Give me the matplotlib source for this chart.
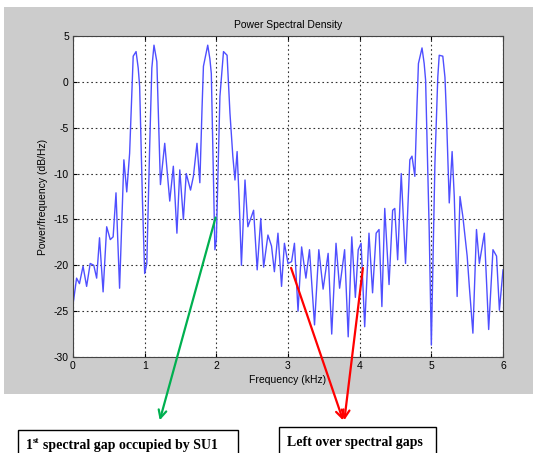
import numpy as np
import matplotlib.pyplot as plt
from matplotlib.patches import Rectangle

# PSD curve (kHz, dB/Hz)
freq = [0.00, 0.05, 0.09, 0.14, 0.19, 0.24, 0.29, 0.33, 0.37, 0.42, 0.47, 0.52,
        0.56, 0.60, 0.65, 0.71, 0.75, 0.79, 0.82, 0.84, 0.88, 0.91, 0.93, 0.97, 1.00, 1.03,
        1.07, 1.10, 1.13, 1.17, 1.22, 1.28, 1.35, 1.40, 1.45, 1.49, 1.54, 1.58, 1.64,
        1.68, 1.73, 1.77, 1.80, 1.82, 1.88, 1.91, 1.93, 1.98, 2.00, 2.05, 2.10, 2.15, 2.19,
        2.23, 2.26, 2.29, 2.32, 2.35, 2.40, 2.44, 2.52, 2.57, 2.62, 2.66, 2.72,
        2.77, 2.81, 2.86, 2.91, 2.95, 3.00, 3.05, 3.09, 3.14, 3.19, 3.25, 3.30,
        3.37, 3.43, 3.49, 3.56, 3.61, 3.67, 3.72, 3.79, 3.84, 3.89, 3.94, 3.98,
        4.02, 4.07, 4.13, 4.18, 4.23, 4.27, 4.31, 4.35, 4.41, 4.46, 4.49, 4.53,
        4.58, 4.64, 4.70, 4.73, 4.77, 4.80, 4.82, 4.87, 4.90, 4.92, 4.97, 5.00, 5.05, 5.09, 5.11,
        5.16, 5.19, 5.21, 5.25, 5.29, 5.32, 5.36, 5.40, 5.44, 5.50, 5.53, 5.58, 5.63,
        5.67, 5.74, 5.80, 5.86, 5.91, 5.95, 6.00]
psd = [-24.3, -21.4, -22.0, -20.1, -22.3, -19.8, -20.0, -21.4, -17.0, -22.9, -15.8, -17.2,
       -16.9, -12.1, -22.5, -8.5, -12.0, -7.8, -1.5, 2.8, 3.3, 1.5, -0.5, -13.2, -20.9, -19.8,
       -7.0, 1.5, 4.0, 2.2, -11.2, -6.7, -13.0, -9.2, -16.5, -9.6, -15.0, -10.0, -11.8,
       -10.3, -6.7, -11.0, -3.0, 1.7, 4.0, 2.5, 0.9, -18.3, -17.2, -1.6, 3.3, 2.9, -3.4,
       -8.1, -10.7, -7.6, -13.2, -20.0, -10.7, -15.8, -14.0, -20.5, -14.9, -20.2, -16.7,
       -17.9, -20.7, -16.5, -22.3, -17.6, -19.8, -19.6, -17.6, -25.0, -18.0, -21.4, -18.3,
       -26.5, -18.3, -22.6, -18.7, -27.5, -17.6, -22.5, -18.3, -27.8, -16.9, -23.5, -18.3,
       -17.6, -26.7, -16.5, -23.0, -16.5, -16.1, -24.5, -13.8, -22.1, -14.0, -13.8, -19.4,
       -10.0, -19.8, -8.5, -8.1, -10.3, -2.5, 2.0, 3.7, 2.0, 0.2, -16.1, -28.7, -8.9, 0.5, 2.9,
       2.8, 0.5, -3.4, -13.2, -7.6, -12.5, -23.4, -12.5, -14.7, -19.0, -22.3, -27.4, -16.1,
       -19.8, -16.5, -27.0, -18.3, -19.0, -24.9, -20.5]

xticks = [0, 1, 2, 3, 4, 5, 6]
yticks = [-30, -25, -20, -15, -10, -5, 0, 5]

W, H = 544, 453
plt.rcParams['font.family'] = ['Liberation Sans', 'DejaVu Sans']
plt.rcParams['axes.unicode_minus'] = False
fig = plt.figure(figsize=(W / 100, H / 100), dpi=100, facecolor='white')

def fx(px):
    return px / W

def fy(py):
    return 1 - py / H

# grey matlab figure background
fig.add_artist(Rectangle((fx(4), fy(394)), fx(533) - fx(4), fy(7) - fy(394),
                         transform=fig.transFigure, facecolor='#cccccc', edgecolor='none', zorder=0))

ax = fig.add_axes([fx(73), fy(357), fx(503) - fx(73), fy(36) - fy(357)])
ax.plot(freq, psd, color='#4f4fff', lw=1.0)
ax.set_xlim(0, 6)
ax.set_ylim(-30, 5)
ax.set_xticks(xticks)
ax.set_yticks(yticks)
ax.tick_params(direction='in', labelsize=7.5, length=3, top=True, right=True, pad=3)
ax.grid(True, linestyle=(0, (1.5, 2.5)), color='#333333', lw=0.8)
ax.set_title('Power Spectral Density', fontsize=7.5, pad=6)
ax.set_xlabel('Frequency (kHz)', fontsize=7.5, labelpad=3)
ax.set_ylabel('Power/frequency (dB/Hz)', fontsize=7.5, labelpad=4)
for s in ax.spines.values():
    s.set_linewidth(0.8)
    s.set_color('#444444')

# arrows down to the boxes
arr = dict(arrowstyle='->', lw=1.6, mutation_scale=14)
ax.annotate('', xy=(159, H - 423), xycoords='figure pixels', xytext=(2.0, -14.5), textcoords='data',
            arrowprops=dict(arr, color='#00b050'), annotation_clip=False)
ax.annotate('', xy=(344, H - 423), xycoords='figure pixels', xytext=(3.03, -20), textcoords='data',
            arrowprops=dict(arr, color='red'), annotation_clip=False)
ax.annotate('', xy=(344, H - 423), xycoords='figure pixels', xytext=(4.05, -20), textcoords='data',
            arrowprops=dict(arr, color='red'), annotation_clip=False)

# text boxes (cut by the bottom edge)
fig.add_artist(Rectangle((fx(18), -0.05), fx(238) - fx(18), fy(430) + 0.05,
                         transform=fig.transFigure, facecolor='white', edgecolor='black', lw=1.0))
fig.add_artist(Rectangle((fx(279), -0.05), fx(436) - fx(279), fy(427) + 0.05,
                         transform=fig.transFigure, facecolor='white', edgecolor='black', lw=1.0))

serif = dict(family='Liberation Serif', weight='bold')
fig.text(fx(26), fy(449), '1', fontsize=10, **serif)
fig.text(fx(33), fy(443), 'st', fontsize=6.5, **serif)
fig.text(fx(43), fy(449), 'spectral gap occupied by SU1', fontsize=10, **serif)
fig.text(fx(287), fy(446), 'Left over spectral gaps', fontsize=10, **serif)

fig.savefig('out.png', dpi=100, facecolor='white')
